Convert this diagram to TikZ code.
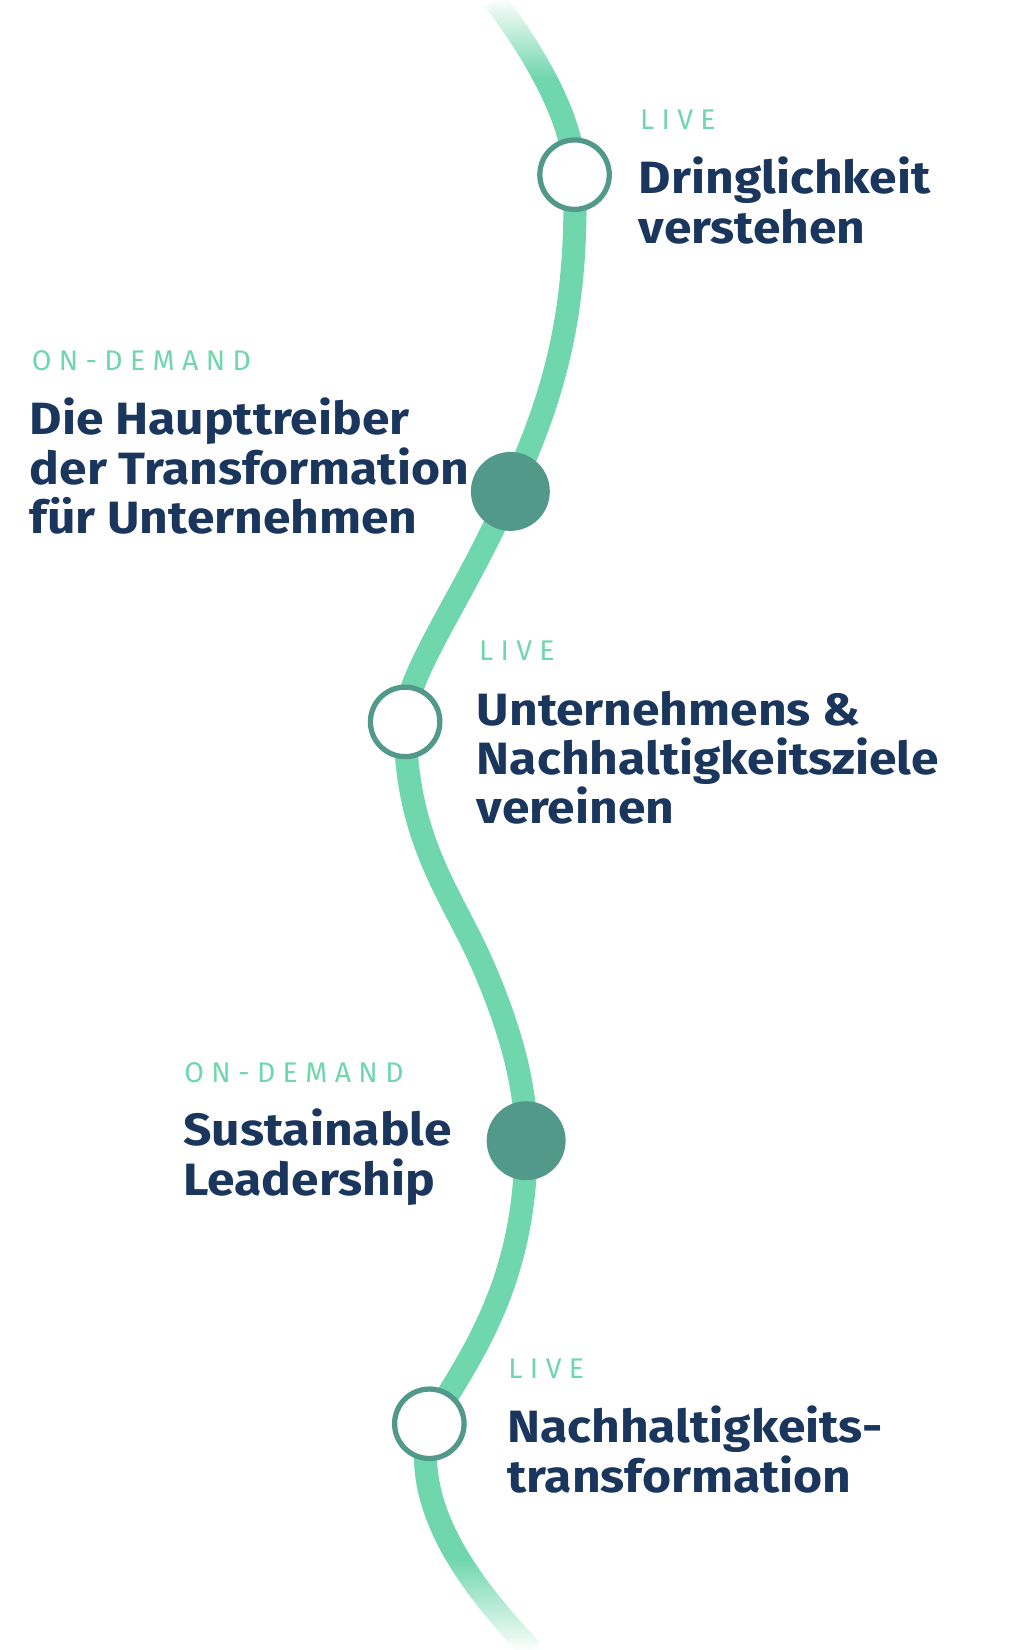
\documentclass[tikz,border=0pt]{standalone}
\usepackage{fontspec}
\setmainfont{Fira Sans}
\newfontfamily\titlefont[FakeStretch=1.1]{Fira Sans Bold}
\newfontfamily\tagfont[LetterSpace=26]{Fira Sans}
\usetikzlibrary{fadings}
\definecolor{wave}{HTML}{6FD6AD}
\definecolor{dotc}{HTML}{52998C}
\definecolor{navy}{HTML}{1B365D}
\tikzset{x=1pt,y=-1pt,
 hollow/.style={circle,draw=dotc,line width=5pt,fill=white,minimum size=66pt,inner sep=0pt},
 solid/.style={circle,fill=dotc,minimum size=75pt,inner sep=0pt},
 tag/.style={anchor=base west,inner sep=0pt,text=wave,font=\tagfont\fontsize{27}{27}\selectfont},
 title/.style={anchor=base west,inner sep=0pt,text=navy,align=left,font=\titlefont\fontsize{43}{47}\selectfont}}
\begin{document}
\begin{tikzpicture}
\useasboundingbox (0,0) rectangle (973,1568);
\coordinate (s) at (470,0);
\coordinate (e) at (505,1568);
\coordinate (p1) at (546,166);
\coordinate (p2) at (485,467);
\coordinate (p3) at (385,686);
\coordinate (p4) at (500,1084);
\coordinate (p5) at (408,1353);
\draw[wave,line width=22pt] (s) .. controls (515,60) and (546,120) .. (p1)
 .. controls (550,300) and (525,380) .. (p2)
 .. controls (440,570) and (385,640) .. (p3)
 .. controls (385,800) and (430,850) .. (460,920)
 .. controls (490,990) and (500,1040) .. (p4)
 .. controls (500,1210) and (455,1280) .. (p5)
 .. controls (392,1420) and (430,1490) .. (e);
\fill[white,path fading=south] (420,-2) rectangle (600,75);
\fill[white,path fading=north] (380,1480) rectangle (560,1570);
\node[hollow] (c1) at (p1) {};
\node[solid] (c2) at (p2) {};
\node[hollow] (c3) at (p3) {};
\node[solid] (c4) at (p4) {};
\node[hollow] (c5) at (p5) {};
\node[tag] (l1) at (608,123) {LIVE};
\node[title] (t1) at (607,231) {Dringlichkeit\\verstehen};
\node[tag] (l2) at (30,352) {ON-DEMAND};
\node[title] (t2) at (28,507) {Die Haupttreiber\\der Transformation\\für Unternehmen};
\node[tag] (l3) at (455,628) {LIVE};
\node[title] (t3) at (453,783) {Unternehmens \&\\Nachhaltigkeitsziele\\vereinen};
\node[tag] (l4) at (175,1029) {ON-DEMAND};
\node[title] (t4) at (174,1136) {Sustainable\\Leadership};
\node[tag] (l5) at (483,1310) {LIVE};
\node[title] (t5) at (482,1418) {Nachhaltigkeits-\\transformation};
\end{tikzpicture}
\end{document}
